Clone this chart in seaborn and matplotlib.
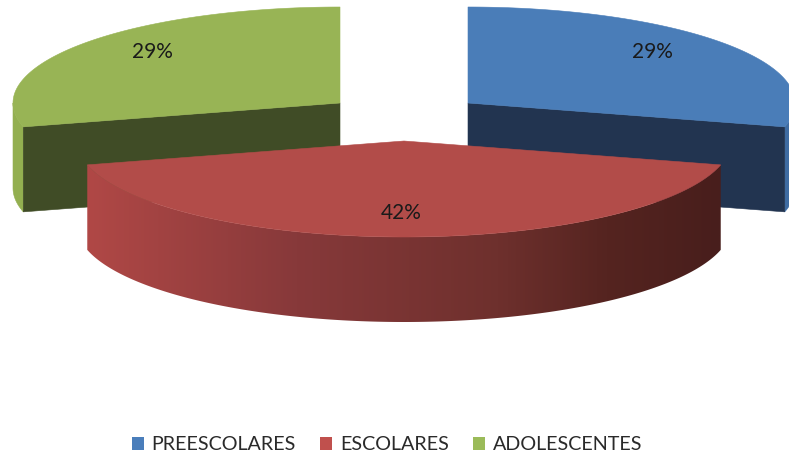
import numpy as np
import matplotlib
matplotlib.use("Agg")
import matplotlib.pyplot as plt
from matplotlib.patches import Polygon, Patch
from matplotlib.colors import LinearSegmentedColormap
import seaborn as sns

# Data
categories = ["PREESCOLARES", "ESCOLARES", "ADOLESCENTES"]
values = [29, 42, 29]
labels = ["29%", "42%", "29%"]

# Styles
top_colors = ["#4A7DB8", "#B24C49", "#98B455"]
cut_colors = ["#223450", "#4F201D", "#404C26"]
rim_colors = ["#3F6CA2", "#B24846", "#93AF50"]
legend_colors = ["#4A7EBB", "#C0504D", "#9BBB59"]
text_color = "#1A1A1A"

sns.set_theme(style="white")
plt.rcParams["font.family"] = ["Lato", "DejaVu Sans"]

fig = plt.figure(figsize=(7.89, 4.59), dpi=100)
ax = fig.add_axes([0, 0, 1, 1])
ax.axis("off")

RX, RY, DEPTH = 327, 96, 85
centers = [(468, 103), (404, 141), (340, 103)]
label_pos = [(652, 52), (401, 213), (152, 52)]

# Angles (clockwise from 12 o'clock) are derived from the values
fracs = np.array(values) / sum(values)
ends = 90 - 360 * np.cumsum(fracs)
starts = np.r_[90, ends[:-1]]


def pt(c, a, dz=0.0):
    r = np.radians(a)
    return np.column_stack([c[0] + RX * np.cos(r), c[1] - RY * np.sin(r) + dz])


def wall(c, a0, a1, color, z):
    a = np.linspace(a0, a1, 60)
    ax.add_patch(Polygon(np.vstack([pt(c, a), pt(c, a[::-1], DEPTH)]),
                         closed=True, fc=color, ec=color, lw=0.4, zorder=z))


def top(c, a0, a1, color, z):
    a = np.linspace(a0, a1, 120)
    ax.add_patch(Polygon(np.vstack([[c], pt(c, a)]), closed=True,
                         fc=color, ec=color, lw=0.4, zorder=z))


def cut(c, a, color, z):
    e = pt(c, np.array([a]))[0]
    ax.add_patch(Polygon([c, e, (e[0], e[1] + DEPTH), (c[0], c[1] + DEPTH)],
                         closed=True, fc=color, ec=color, lw=0.4, zorder=z))


# Preescolares (right, behind)
i = 0
wall(centers[i], ends[i], 0, rim_colors[i], 1)
cut(centers[i], ends[i], cut_colors[i], 2)
top(centers[i], starts[i], ends[i], top_colors[i], 3)

# Adolescentes (left, behind)
i = 2
wall(centers[i], -180, starts[i], rim_colors[i], 1)
cut(centers[i], starts[i], cut_colors[i], 2)
top(centers[i], starts[i], ends[i], top_colors[i], 3)

# Escolares (front) with shaded rim
i = 1
shade = LinearSegmentedColormap.from_list(
    "rim", [(0.0, "#B04846"), (0.33, "#87393A"), (0.65, "#6E302D"),
            (0.82, "#552420"), (1.0, "#481E1C")])
c = centers[i]
a = np.linspace(starts[i], ends[i], 240)
xy_top = pt(c, a)
xy_bot = pt(c, a, DEPTH)
xmin, xmax = xy_top[:, 0].min(), xy_top[:, 0].max()
grad = ax.imshow(np.linspace(0, 1, 512)[None, :], cmap=shade, aspect="auto",
                 extent=(xmin, xmax, c[1] + RY + DEPTH + 2, c[1]), zorder=4)
rim_clip = Polygon(np.vstack([xy_top, xy_bot[::-1]]), closed=True, transform=ax.transData)
grad.set_clip_path(rim_clip)
top(c, starts[i], ends[i], top_colors[i], 5)

ax.set_xlim(0, 789)
ax.set_ylim(459, 0)

for (x, y), s in zip(label_pos, labels):
    ax.text(x, y, s, ha="center", va="center", fontsize=15, color=text_color, zorder=6)

handles = [Patch(fc=col, ec="none", label=n) for col, n in zip(legend_colors, categories)]
leg = ax.legend(handles=handles, ncol=3, frameon=False, loc="center",
                bbox_to_anchor=(387 / 789, 1 - 445 / 459), bbox_transform=fig.transFigure,
                fontsize=14.2, handlelength=0.61, handleheight=0.61, handletextpad=0.4,
                columnspacing=1.22, labelcolor="#2A2A2A", borderpad=0, borderaxespad=0)

fig.savefig("out.png", dpi=100)
